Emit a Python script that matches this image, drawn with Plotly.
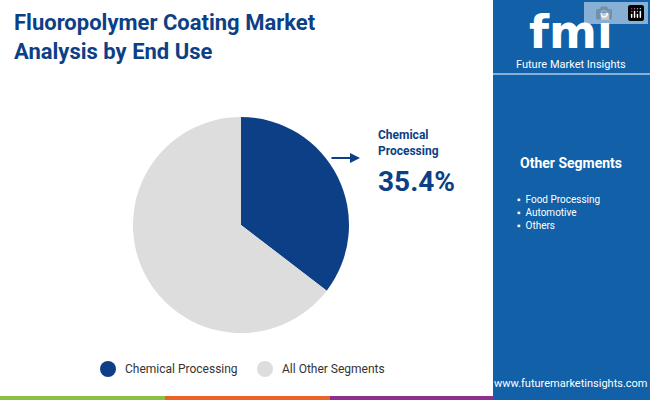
import plotly.graph_objects as go

labels = ["Chemical Processing", "All Other Segments"]
values = [35.4, 64.6]
colors = ["#0d3f86", "#dddddd"]
other_segments = ["Food Processing", "Automotive", "Others"]

fig = go.Figure()
fig.add_trace(go.Pie(labels=labels, values=values, sort=False, direction="clockwise",
                     rotation=0, marker=dict(colors=colors), textinfo="none",
                     hoverinfo="label+percent", showlegend=False,
                     domain=dict(x=[133/650, 349/650], y=[67/400, 283/400])))

shapes = [
    dict(type="rect", xref="paper", yref="paper", x0=493/650, x1=1, y0=0, y1=1,
         fillcolor="#1160a8", line_width=0, layer="below"),
    dict(type="rect", xref="paper", yref="paper", x0=0, x1=165/650, y0=0, y1=4/400, fillcolor="#8cc043", line_width=0),
    dict(type="rect", xref="paper", yref="paper", x0=165/650, x1=330/650, y0=0, y1=4/400, fillcolor="#e8622a", line_width=0),
    dict(type="rect", xref="paper", yref="paper", x0=330/650, x1=493/650, y0=0, y1=4/400, fillcolor="#8e2e8e", line_width=0),
    dict(type="line", xref="paper", yref="paper", x0=493/650, x1=1, y0=1-74/400, y1=1-74/400, line=dict(color="white", width=1)),
]
for lx, c in [(108, colors[0]), (265, colors[1])]:
    shapes.append(dict(type="circle", xref="paper", yref="paper",
                       x0=(lx-8)/650, x1=(lx+8)/650, y0=1-377/400, y1=1-361/400,
                       fillcolor=c, line_width=0))

ann = [
    dict(x=12/650, y=1-8/400, xanchor="left", yanchor="top", align="left",
         text="<b>Fluoropolymer Coating Market<br>Analysis by End Use</b>",
         font=dict(family="Roboto", size=22, color="#0d3f86")),
    dict(x=376/650, y=1-126/400, xanchor="left", yanchor="top", align="left",
         text="<b>Chemical<br>Processing</b>", font=dict(family="Roboto", size=12, color="#0d3f86")),
    dict(x=376/650, y=1-163/400, xanchor="left", yanchor="top", align="left",
         text="<b>35.4%</b>", font=dict(family="Roboto", size=28, color="#0d3f86")),
    dict(x=360/650, y=1-158/400, ax=-30, ay=0, showarrow=True, arrowhead=2, arrowsize=1,
         arrowwidth=2, arrowcolor="#0d3f86", text=""),
    dict(x=571/650, y=1-163/400, xanchor="center", yanchor="middle",
         text="<b>Other Segments</b>", font=dict(family="Roboto", size=14, color="white")),
    dict(x=571/650, y=1-32/400, xanchor="center", yanchor="middle",
         text="<b>fmi</b>", font=dict(family="DejaVu Sans", size=46, color="white")),
    dict(x=571/650, y=1-64/400, xanchor="center", yanchor="middle",
         text="Future Market Insights", font=dict(family="Roboto", size=11, color="white")),
    dict(x=571/650, y=1-383/400, xanchor="center", yanchor="middle",
         text="www.futuremarketinsights.com", font=dict(family="Roboto", size=11, color="white")),
    dict(x=123/650, y=1-369/400, xanchor="left", yanchor="middle",
         text=labels[0], font=dict(family="Roboto", size=12, color="#333333")),
    dict(x=280/650, y=1-369/400, xanchor="left", yanchor="middle",
         text=labels[1], font=dict(family="Roboto", size=12, color="#333333")),
]
for i, s in enumerate(other_segments):
    ann.append(dict(x=515/650, y=1-(199+13*i)/400, xanchor="left", yanchor="middle",
                    text="▪  " + s, font=dict(family="Roboto", size=10, color="white")))
for a in ann:
    a.setdefault("xref", "paper"); a.setdefault("yref", "paper"); a.setdefault("showarrow", False)

fig.update_layout(width=650, height=400, margin=dict(l=0, r=0, t=0, b=0),
                  paper_bgcolor="white", plot_bgcolor="white",
                  shapes=shapes, annotations=ann)
fig.write_html("out.html")

with open("out.html", encoding="utf-8") as f:
    html = f.read()
html = html.replace("<head>", "<head><style>html,body{margin:0;padding:0;overflow:hidden}</style>", 1)
with open("out.html", "w", encoding="utf-8") as f:
    f.write(html)
